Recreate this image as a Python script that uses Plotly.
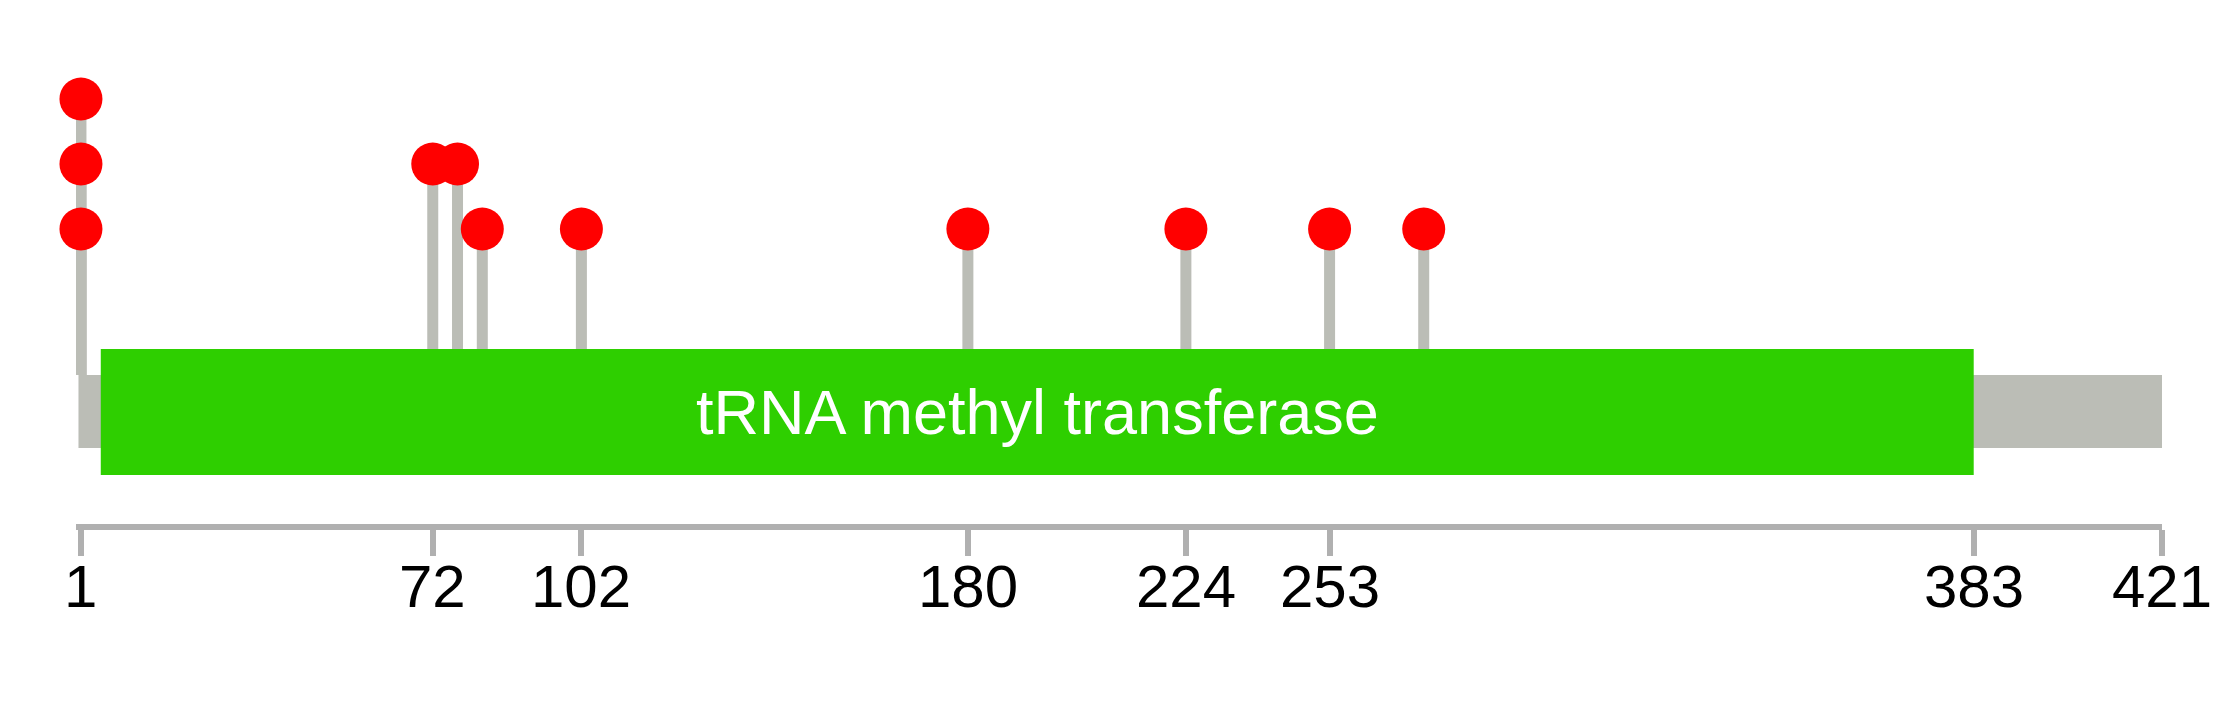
import plotly.graph_objects as go

# ---- data ----
protein_length = 421
domain_name = "tRNA methyl transferase"
domain_start = 5
domain_end = 383
mut_positions = [1, 1, 1, 72, 77, 82, 102, 180, 224, 253, 272]
mut_levels = [1, 2, 3, 2, 2, 1, 1, 1, 1, 1, 1]
tick_vals = [1, 72, 102, 180, 224, 253, 383, 421]

# ---- layout constants (pixel-like y units, 0 at top) ----
W, H = 2239, 708
PLOT_BOTTOM = 524
LEVEL1_Y = 229
LEVEL_STEP = 65
BACK_TOP, BACK_BOTTOM = 375, 448
DOM_TOP, DOM_BOTTOM = 349, 475
TICKLABEL_Y = 586
GRAY = "#BBBDB6"
AXIS_GRAY = "#B0B0B0"
GREEN = "#2ECF00"
RED = "#FF0000"
FONT = "Liberation Sans, Arial, sans-serif"

ys = [LEVEL1_Y - (lv - 1) * LEVEL_STEP for lv in mut_levels]

stem_x, stem_y = [], []
for p, y in zip(mut_positions, ys):
    stem_x += [p, p, None]
    stem_y += [BACK_TOP, y, None]

fig = go.Figure()
fig.add_trace(go.Scatter(x=stem_x, y=stem_y, mode="lines", cliponaxis=False,
                         line=dict(color=GRAY, width=11), hoverinfo="skip",
                         showlegend=False))
fig.add_trace(go.Scatter(x=mut_positions, y=ys, mode="markers", cliponaxis=False,
                         marker=dict(color=RED, size=43, line=dict(width=0)),
                         showlegend=False))

fig.add_shape(type="rect", x0=0.5, x1=protein_length, y0=BACK_TOP, y1=BACK_BOTTOM,
              fillcolor=GRAY, line=dict(width=0), layer="above")
fig.add_shape(type="rect", x0=domain_start, x1=domain_end, y0=DOM_TOP, y1=DOM_BOTTOM,
              fillcolor=GREEN, line=dict(width=0), layer="above")
fig.add_annotation(x=(domain_start + domain_end) / 2, y=(DOM_TOP + DOM_BOTTOM) / 2,
                   text=domain_name, showarrow=False,
                   font=dict(family=FONT, size=63, color="white"))

label_paper_y = (PLOT_BOTTOM - TICKLABEL_Y) / PLOT_BOTTOM
for t in tick_vals:
    fig.add_annotation(x=t, xref="x", y=label_paper_y, yref="paper",
                       text=str(t), showarrow=False,
                       xanchor="center", yanchor="middle",
                       font=dict(family=FONT, size=60, color="black"))

fig.update_layout(
    width=W, height=H,
    margin=dict(l=76, r=W - 2162, t=0, b=H - PLOT_BOTTOM, pad=0),
    paper_bgcolor="white", plot_bgcolor="white",
    xaxis=dict(range=[0, protein_length], showgrid=False, zeroline=False,
               showline=True, linecolor=AXIS_GRAY, linewidth=6,
               ticks="outside", ticklen=26, tickwidth=6, tickcolor=AXIS_GRAY,
               tickvals=tick_vals, showticklabels=False),
    yaxis=dict(range=[PLOT_BOTTOM, 0], visible=False, showgrid=False,
               zeroline=False),
)

fig.write_html("out.html", config={"displayModeBar": False},
               post_script="document.body.style.margin='0';document.body.style.overflow='hidden';")
